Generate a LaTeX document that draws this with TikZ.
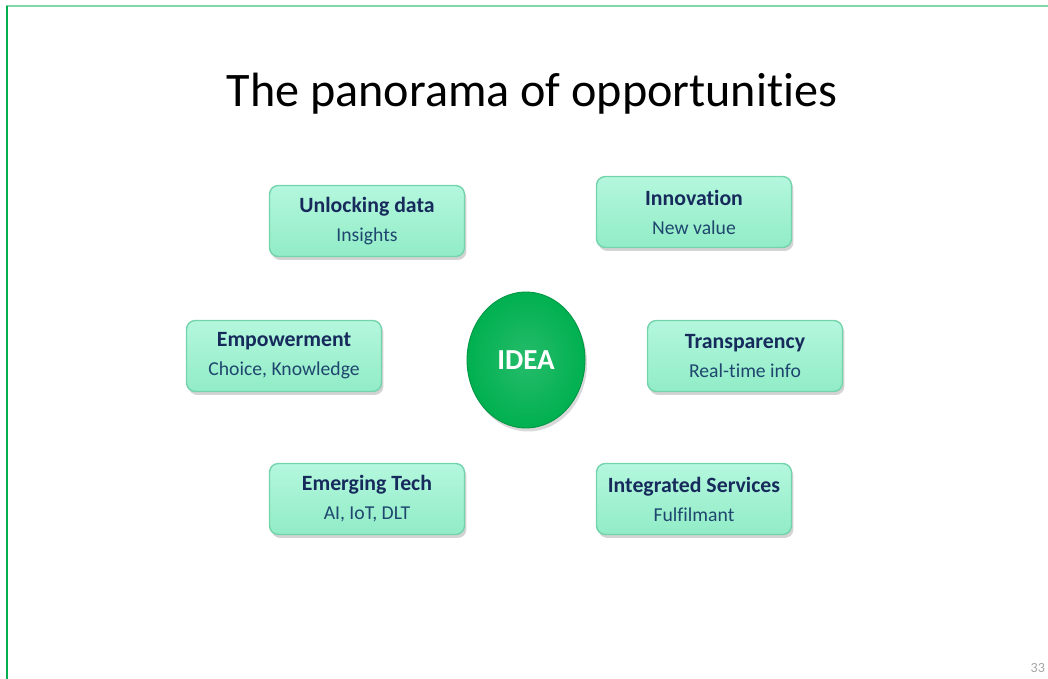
\documentclass[tikz,border=0pt]{standalone}
\usepackage{fontspec}
\setmainfont{Carlito}[Ligatures=NoCommon]
\usetikzlibrary{shadows,shapes.geometric}

\definecolor{boxtop}{RGB}{180,247,222}
\definecolor{boxbottom}{RGB}{145,236,198}
\definecolor{boxline}{RGB}{115,212,172}
\definecolor{headtext}{RGB}{22,42,92}
\definecolor{subtext}{RGB}{30,70,110}
\definecolor{ideagreen}{RGB}{0,176,80}
\definecolor{frameline}{RGB}{0,176,80}

\begin{document}
\begin{tikzpicture}[x=0.02cm, y=-0.02cm,
    topic/.style={draw=boxline, line width=0.8pt, rectangle, rounded corners=5pt,
        top color=boxtop, bottom color=boxbottom, minimum width=3.9cm, minimum height=1.42cm,
        align=center, font=\fontsize{11.2}{16.5}\selectfont, text=subtext,
        drop shadow={shadow xshift=0.04cm, shadow yshift=-0.07cm, opacity=0.35}}]
    \useasboundingbox (0,0) rectangle (1048,679);

    % frame of the slide
    \draw[frameline!50, line width=1pt] (6,6) -- (1048,6);
    \draw[frameline, line width=1.6pt] (7,6) -- (7,679);

    \node (title) at (532,94) {\fontsize{27.4}{32}\selectfont The panorama of opportunities};

    \node (idea) [ellipse, minimum width=2.36cm, minimum height=2.72cm, draw=ideagreen!85!black, line width=0.5pt,
        inner color=ideagreen!85!white, outer color=ideagreen, text=white,
        font=\fontsize{16.5}{18}\selectfont\bfseries,
        drop shadow={shadow xshift=0.04cm, shadow yshift=-0.07cm, opacity=0.3}] at (526,360) {IDEA};

    \node (unlock) [topic] at (367,221) {{\fontsize{12.4}{16.5}\selectfont\bfseries\color{headtext}Unlocking data}\\Insights};
    \node (innov) [topic] at (694,212) {{\fontsize{12.4}{16.5}\selectfont\bfseries\color{headtext}Innovation}\\New value};
    \node (empower) [topic] at (284,356) {{\fontsize{12.4}{16.5}\selectfont\bfseries\color{headtext}Empowerment}\\Choice, Knowledge};
    \node (transp) [topic] at (745,356) {{\fontsize{12.4}{16.5}\selectfont\bfseries\color{headtext}Transparency}\\Real-time info};
    \node (emerg) [topic] at (367,499) {{\fontsize{12.4}{16.5}\selectfont\bfseries\color{headtext}Emerging Tech}\\AI, IoT, DLT};
    \node (integr) [topic] at (694,499) {{\fontsize{12.4}{16.5}\selectfont\bfseries\color{headtext}Integrated Services}\\Fulfilmant};

    \node (page) [anchor=east, inner sep=1pt, text=gray!70, font=\fontsize{8}{9}\selectfont] at (1047,668) {33};
\end{tikzpicture}
\end{document}
